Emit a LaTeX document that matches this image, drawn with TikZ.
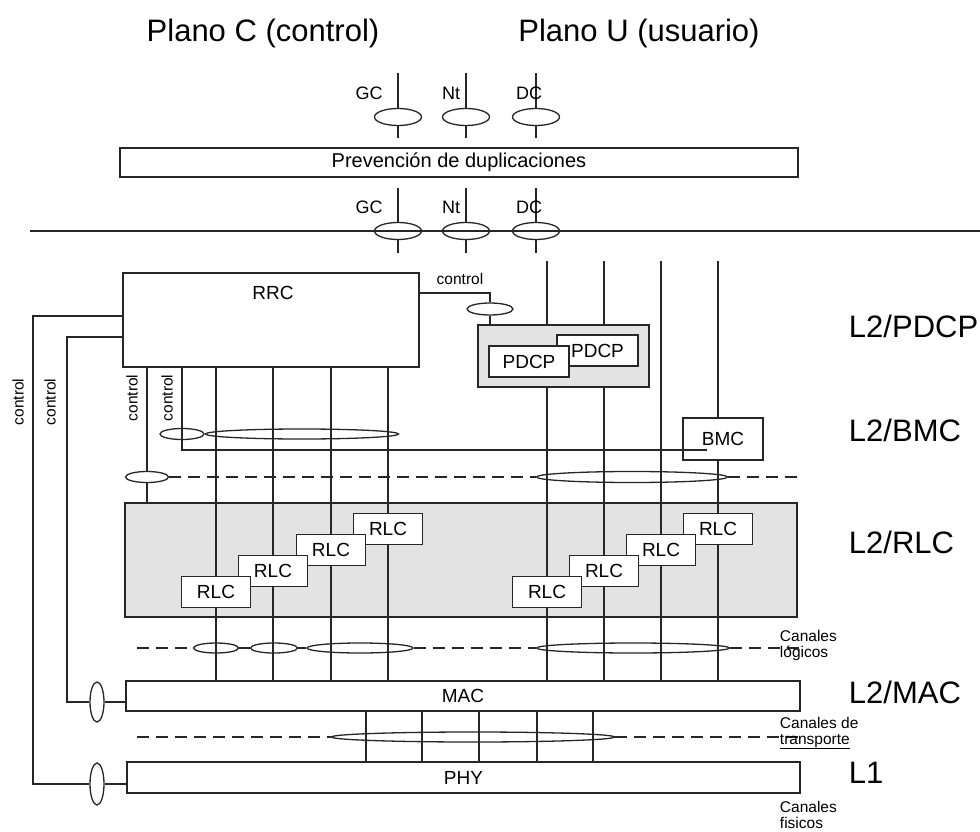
\documentclass[tikz,border=0pt]{standalone}
\usepackage{fontspec}
\setmainfont{Liberation Sans}
\usetikzlibrary{shapes.geometric}

\begin{document}
\begin{tikzpicture}[x=1pt,y=-1pt,line width=1.3pt,draw=black!85,
  box/.style={draw,fill=white,inner sep=0pt,font=\fontsize{19}{22}\selectfont},
  area/.style={draw,fill=gray!22,inner sep=0pt},
  chan/.style={draw,ellipse,inner sep=0pt},
  rlcbox/.style={box,minimum width=69,minimum height=31},
  lbl/.style={font=\fontsize{18}{21}\selectfont},
  small/.style={font=\fontsize{15.5}{16}\selectfont,align=left},
  layer/.style={anchor=west,font=\fontsize{31}{36}\selectfont},
  dashline/.style={dash pattern=on 12pt off 7pt}]
\useasboundingbox (0,0) rectangle (980,832);

\node[font=\fontsize{31}{36}\selectfont] (planoC) at (263,33) {Plano C (control)};
\node[font=\fontsize{31}{36}\selectfont] (planoU) at (639,33) {Plano U (usuario)};

% stubs above and below the duplicate prevention
\foreach \n/\x/\t/\lx in {gc/398/GC/369,nt/466/Nt/451,dc/536/DC/529} {
  \coordinate (\n T1) at (\x,73);
  \coordinate (\n B1) at (\x,138);
  \node[chan,fill=white,minimum width=47,minimum height=17] (\n E1) at (\x,117) {};
  \draw (\n T1) -- (\n E1.north) (\n E1.south) -- (\n B1);
  \node[lbl] (\n L1) at (\lx,93) {\t};
  \coordinate (\n T2) at (\x,188);
  \coordinate (\n B2) at (\x,253);
  \node[chan,fill=white,minimum width=47,minimum height=17] (\n E2) at (\x,231) {};
  \draw (\n T2) -- (\n E2.north) (\n E2.south) -- (\n B2);
  \node[lbl] (\n L2) at (\lx,207) {\t};
}
\node[box,minimum width=678,minimum height=29,font=\fontsize{20}{22}\selectfont] (prev) at (459,162.5) {Prevención de duplicaciones};

\coordinate (hl) at (30,231);
\coordinate (hr) at (980,231);
\draw (hl) -- (hr);

% RRC
\node[box,minimum width=296,minimum height=94] (rrc) at (271,320) {};
\node[box,draw=none,fill=none] (rrcT) at (273,293) {RRC};

\coordinate (pc) at (490,293);
\node[small] (ctlP) at (460,279) {control};

% PDCP
\node[area,minimum width=171,minimum height=62] (pdcpA) at (563.5,356) {};
\node[box,minimum width=81,minimum height=31] (pdcpB) at (597.5,350.5) {PDCP};
\node[box,minimum width=80,minimum height=31] (pdcpF) at (529,361.5) {PDCP};
\node[chan,fill=white,minimum width=46,minimum height=12] (pcE) at (490,309) {};
\draw (rrc.east |- pc) -- (pc) -- (pcE.north) (pcE.south) -- (pdcpA.north -| pc);

% BMC, RLC, MAC, PHY
\node[box,minimum width=80,minimum height=42] (bmc) at (723,439) {BMC};
\node[area,minimum width=672,minimum height=114] (rlcA) at (461,560) {};
\node[box,minimum width=674,minimum height=30] (mac) at (463,696) {MAC};
\node[box,minimum width=673,minimum height=31] (phy) at (463.5,777.5) {PHY};

\foreach \x [count=\i] in {216,273,331,388} \coordinate (cp\i) at (\x,0);
\foreach \x [count=\i] in {547,604,661,718} \coordinate (up\i) at (\x,261);

\foreach \i in {1,...,4}
  \draw (rrc.south -| cp\i) -- (mac.north -| cp\i);
\draw (up1) -- (pdcpA.north -| up1) (pdcpA.south -| up1) -- (mac.north -| up1);
\draw (up2) -- (pdcpA.north -| up2) (pdcpA.south -| up2) -- (mac.north -| up2);
\draw (up3) -- (mac.north -| up3);
\draw (up4) -- (bmc.north -| up4) (bmc.south -| up4) -- (mac.north -| up4);

\foreach \i/\y in {4/529,3/550,2/571,1/592} {
  \node[rlcbox] (rlcC\i) at (cp\i |- 0,\y) {RLC};
  \node[rlcbox] (rlcU\i) at (up\i |- 0,\y) {RLC};
}

% control lines out of RRC
\coordinate (ca) at (147,0);
\coordinate (cb) at (182,450);
\coordinate (cbEnd) at (707,450);
\draw (rrc.south -| ca) -- (rlcA.north -| ca);
\draw (rrc.south -| cb) -- (cb) -- (cbEnd);
\node[chan,minimum width=44,minimum height=11] (cbE) at (182,434) {};
\node[chan,minimum width=193,minimum height=10] (cbig) at (302,434) {};
\node[small,rotate=90] (ctlA) at (132,398) {control};
\node[small,rotate=90] (ctlB) at (167,398) {control};

\coordinate (oc1) at (33,316);
\coordinate (oc2) at (33,784);
\node[chan,minimum width=14,minimum height=42] (ocE) at (97,784) {};
\draw (rrc.west |- oc1) -- (oc1) -- (oc2) -- (ocE.west) (ocE.east) -- (phy.west |- ocE);
\coordinate (ic1) at (67,337);
\coordinate (ic2) at (67,702);
\node[chan,minimum width=14,minimum height=40] (icE) at (97,702) {};
\draw (rrc.west |- ic1) -- (ic1) -- (ic2) -- (icE.west) (icE.east) -- (mac.west |- icE);
\node[small,rotate=90] (ctlO) at (18,402) {control};
\node[small,rotate=90] (ctlI) at (50,402) {control};

% BMC channels
\node[chan,fill=white,minimum width=43,minimum height=11] (caE) at (147,477) {};
\node[chan,minimum width=191,minimum height=11] (bmE) at (632,477) {};
\coordinate (bmR) at (800,477);
\draw[dashline] (caE.east) -- (bmE.west) (bmE.east) -- (bmR);

% logical channels
\coordinate (lgL) at (137,648);
\coordinate (lgR) at (800,648);
\foreach \n/\x/\w in {1/216/45,2/274/47,3/360/106,4/633/193}
  \node[chan,minimum width=\w,minimum height=10] (lg\n) at (\x,648) {};
\draw[dashline] (lgL) -- (lg1.west) (lg1.east) -- (lg2.west) (lg2.east) -- (lg3.west)
  (lg3.east) -- (lg4.west) (lg4.east) -- (lgR);

% transport channels
\foreach \x in {366,422,479,537,593}
  \draw (mac.south -| \x,0) -- (phy.north -| \x,0);
\coordinate (trL) at (137,737);
\coordinate (trR) at (800,737);
\node[chan,minimum width=283,minimum height=10] (trE) at (473,737) {};
\draw[dashline] (trL) -- (trE.west) (trE.east) -- (trR);

\node[small,anchor=west] (cLog) at (776,645) {Canales\\lógicos};
\node[small,anchor=west] (cTr) at (776,733) {Canales de\\\underline{transporte}};
\node[small,anchor=west] (cFis) at (776,815) {Canales\\fisicos};

\node[layer] (lPdcp) at (845,326) {L2/PDCP};
\node[layer] (lBmc) at (845,430) {L2/BMC};
\node[layer] (lRlc) at (845,542) {L2/RLC};
\node[layer] (lMac) at (845,692) {L2/MAC};
\node[layer] (lPhy) at (845,773) {L1};
\end{tikzpicture}
\end{document}
